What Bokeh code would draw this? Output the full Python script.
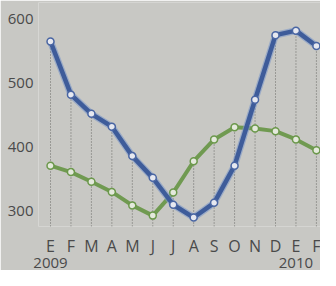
from bokeh.plotting import figure
from bokeh.models import FixedTicker, LinearAxis, Range1d, ColumnDataSource
from bokeh.embed import file_html
from bokeh.resources import INLINE

months = ["E", "F", "M", "A", "M", "J", "J", "A", "S", "O", "N", "D", "E", "F"]
years = {0: "2009", 12: "2010"}
blue = [564, 481, 451, 431, 385, 351, 309, 289, 312, 370, 473, 574, 581, 557]
green = [370, 360, 345, 329, 308, 292, 328, 377, 411, 430, 428, 424, 411, 394]
y_ticks = [300, 400, 500, 600]

BG = "#c8c8c4"
TXT = "#4a4a4a"
FONT = "Open Sans"

x = list(range(len(months)))
bottom = 275
src = ColumnDataSource(dict(x=x, blue=blue, green=green,
                            top=[max(b, g) for b, g in zip(blue, green)],
                            bot=[bottom] * len(x)))

p = figure(width=320, height=270, output_backend="svg", toolbar_location=None,
           x_range=Range1d(-0.587, 13.2), y_range=Range1d(bottom, 625),
           min_border_left=38, min_border_right=0, min_border_top=2,
           background_fill_color=BG, border_fill_color=BG, outline_line_color=None)
p.grid.visible = False

# drop lines
p.segment(x0="x", y0="bot", x1="x", y1="top", source=src,
          line_color="#6a6a66", line_width=1, line_dash="1 2")

# green series
p.line("x", "green", source=src, line_color="#6b984b", line_width=4, line_alpha=0.95)
p.scatter("x", "green", source=src, size=7, fill_color="#e4e9dc",
          line_color="#6b984b", line_width=1.5)

# blue series
p.line("x", "blue", source=src, line_color="#7d97c8", line_width=7, line_alpha=0.6)
p.line("x", "blue", source=src, line_color="#3e5c9a", line_width=4.5)
p.scatter("x", "blue", source=src, size=7, fill_color="#e6e8f0",
          line_color="#4a66a3", line_width=1.5)


def style_axis(ax, size, standoff):
    ax.axis_line_color = None
    ax.major_tick_line_color = None
    ax.minor_tick_line_color = None
    ax.major_tick_out = 0
    ax.major_tick_in = 0
    ax.minor_tick_out = 0
    ax.major_label_standoff = standoff
    ax.major_label_text_font = FONT
    ax.major_label_text_font_size = size
    ax.major_label_text_color = TXT


ya = p.yaxis[0]
ya.ticker = FixedTicker(ticks=y_ticks)
style_axis(ya, "15px", 5)

xa = p.xaxis[0]
xa.ticker = FixedTicker(ticks=x)
xa.major_label_overrides = {i: m for i, m in enumerate(months)}
style_axis(xa, "16px", 8)

yr = LinearAxis(ticker=FixedTicker(ticks=list(years.keys())),
                major_label_overrides=years)
style_axis(yr, "15px", -2)
p.add_layout(yr, "below")

open("out.html", "w").write(file_html(p, INLINE))
